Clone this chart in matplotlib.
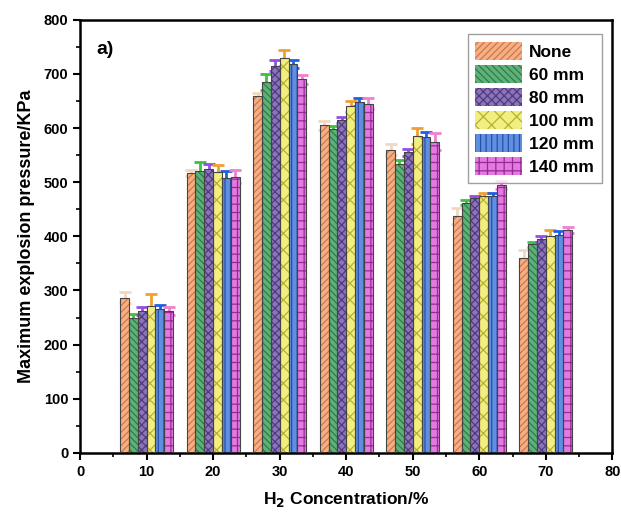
import matplotlib
matplotlib.use("Agg")
import matplotlib.pyplot as plt
import numpy as np

plt.rcParams["font.family"] = ["Liberation Sans", "DejaVu Sans"]
plt.rcParams["font.weight"] = "bold"
plt.rcParams["hatch.linewidth"] = 0.9

concentrations = [10, 20, 30, 40, 50, 60, 70]
series = ["None", "60 mm", "80 mm", "100 mm", "120 mm", "140 mm"]

none_vals = [287, 517, 660, 605, 560, 437, 360]
mm60_vals = [250, 520, 685, 598, 533, 462, 385]
mm80_vals = [262, 525, 715, 615, 555, 470, 395]
mm100_vals = [272, 518, 730, 640, 585, 475, 400]
mm120_vals = [265, 508, 718, 648, 583, 475, 402]
mm140_vals = [262, 510, 690, 645, 575, 495, 412]

none_err = [10, 5, 5, 8, 10, 15, 15]
mm60_err = [6, 18, 15, 6, 8, 5, 5]
mm80_err = [8, 8, 10, 5, 6, 4, 5]
mm100_err = [22, 14, 15, 10, 15, 5, 12]
mm120_err = [8, 12, 8, 8, 10, 5, 8]
mm140_err = [8, 12, 8, 10, 15, 8, 6]

values = [none_vals, mm60_vals, mm80_vals, mm100_vals, mm120_vals, mm140_vals]
errors = [none_err, mm60_err, mm80_err, mm100_err, mm120_err, mm140_err]

face = ["#f2b08a", "#5fb07a", "#8d74b8", "#f2ee80", "#5f8fe0", "#e27ae0"]
hatch_col = ["#d8743c", "#2e7d45", "#4e3a80", "#b8b030", "#2a4fa8", "#9a2a98"]
err_col = ["#f0d8c0", "#40c040", "#9050e0", "#f0a030", "#2060e0", "#f080d0"]
hatches = ["/////", "\\\\\\\\\\", "xxxx", "xx", "|||", "++"]

fig = plt.figure(figsize=(6.21, 5.20), dpi=100)
ax = fig.add_axes([0.129, 0.129, 0.857, 0.833])

x = np.array(concentrations, dtype=float)
width = 1.33
handles = []
for i, name in enumerate(series):
    offset = (i - 2.5) * width
    ax.errorbar(x + offset, values[i], yerr=errors[i], fmt="none",
                ecolor=err_col[i], elinewidth=2, capsize=4, capthick=2, zorder=1)
    bars = ax.bar(x + offset, values[i], width, color=face[i],
                  edgecolor=hatch_col[i], hatch=hatches[i], linewidth=0,
                  label=name, zorder=2)
    ax.bar(x + offset, values[i], width, color="none",
           edgecolor="#444444", linewidth=0.8, zorder=3)
    handles.append(bars)

ax.set_xlim(0, 80)
ax.set_ylim(0, 800)
ax.set_xticks(np.arange(0, 81, 10))
ax.set_yticks(np.arange(0, 801, 100))
ax.set_xticks(np.arange(0, 81, 5), minor=True)
ax.set_yticks(np.arange(0, 801, 50), minor=True)
ax.tick_params(which="major", direction="out", length=5, width=1.5, labelsize=10.5)
ax.tick_params(which="minor", direction="out", length=3, width=1.2)
for sp in ax.spines.values():
    sp.set_linewidth(1.8)

ax.set_xlabel(r"H$_\mathbf{2}$ Concentration/%", fontsize=12.5, fontweight="bold", labelpad=8)
ax.set_ylabel("Maximum explosion pressure/KPa", fontsize=13, fontweight="bold", labelpad=6)
ax.text(0.03, 0.95, "a)", transform=ax.transAxes, fontsize=14, fontweight="bold",
        va="top", ha="left")

leg = ax.legend(handles=handles, loc="upper right", fontsize=12.5, frameon=True,
                fancybox=False, edgecolor="#888888", handlelength=2.7,
                handleheight=1.2, labelspacing=0.3, handletextpad=0.4,
                borderpad=0.45, bbox_to_anchor=(0.997, 0.987))
for t in leg.get_texts():
    t.set_fontweight("bold")

fig.savefig("out.png", dpi=100)
